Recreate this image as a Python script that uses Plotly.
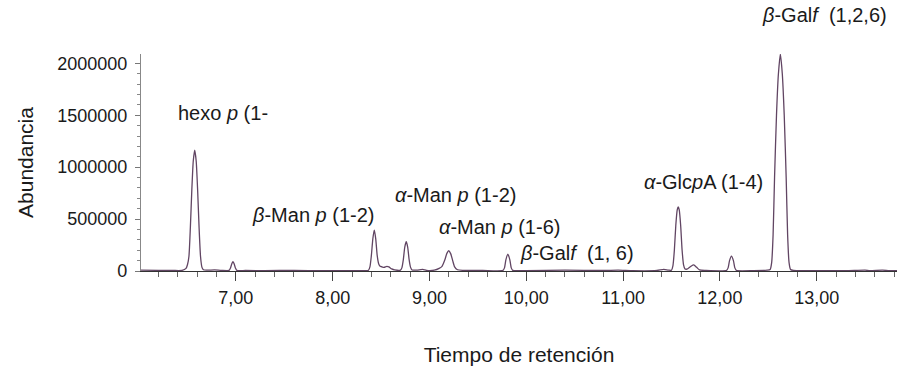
import plotly.graph_objects as go

# Retention time (min) and abundance
tiempo = [6.02, 6.20, 6.35, 6.445, 6.485, 6.50, 6.515, 6.53, 6.545, 6.56, 6.575, 6.59, 6.605,
          6.62, 6.635, 6.65, 6.665, 6.70, 6.78, 6.85, 6.93, 6.945, 6.96, 6.97, 6.98, 6.995,
          7.01, 7.10, 7.30, 7.60, 7.90, 8.20, 8.37, 8.385, 8.40, 8.415, 8.43, 8.445, 8.46,
          8.475, 8.49, 8.51, 8.53, 8.56, 8.58, 8.61, 8.64, 8.70, 8.715, 8.73, 8.745, 8.76,
          8.775, 8.79, 8.805, 8.82, 8.87, 8.93, 8.97, 9.05, 9.10, 9.13, 9.16, 9.18, 9.20,
          9.22, 9.24, 9.26, 9.29, 9.35, 9.55, 9.76, 9.775, 9.79, 9.81, 9.83, 9.845, 9.86,
          10.00, 10.40, 10.80, 10.95, 11.10, 11.35, 11.42, 11.47, 11.50, 11.515, 11.53,
          11.545, 11.56, 11.57, 11.58, 11.595, 11.61, 11.625, 11.64, 11.66, 11.70, 11.73,
          11.76, 11.79, 11.85, 12.07, 12.085, 12.10, 12.12, 12.14, 12.155, 12.17, 12.35,
          12.49, 12.52, 12.535, 12.55, 12.565, 12.585, 12.605, 12.625, 12.645, 12.665,
          12.685, 12.70, 12.715, 12.73, 12.76, 12.90, 13.30, 13.50, 13.55, 13.68, 13.75,
          13.83]
abundancia = [8000, 6000, 5000, 6000, 25000, 60000, 140000, 420000, 780000, 1060000, 1163000,
              1060000, 780000, 420000, 140000, 35000, 12000, 8000, 10000, 6000, 6000, 30000,
              75000, 89000, 75000, 30000, 6000, 5000, 4000, 6000, 3000, 4000, 8000, 40000,
              150000, 310000, 394000, 310000, 150000, 70000, 45000, 40000, 35000, 45000,
              40000, 20000, 10000, 8000, 30000, 110000, 230000, 282000, 230000, 110000, 35000,
              10000, 8000, 15000, 6000, 8000, 25000, 45000, 110000, 170000, 195000, 165000,
              100000, 40000, 12000, 6000, 5000, 6000, 30000, 110000, 163000, 110000, 30000,
              6000, 4000, 8000, 5000, 8000, 3000, 5000, 15000, 8000, 8000, 50000, 200000,
              440000, 590000, 618000, 590000, 440000, 200000, 60000, 20000, 18000, 45000,
              58000, 35000, 10000, 5000, 6000, 30000, 100000, 144000, 100000, 30000, 6000,
              4000, 8000, 15000, 80000, 350000, 900000, 1500000, 1900000, 2090000, 1900000,
              1500000, 900000, 350000, 80000, 15000, 6000, 4000, 3000, 8000, 3000, 8000,
              3000, 3000]

# Peak labels (anchored at their left edge)
etiquetas = ["hexo <i>p</i> (1-", "<i>β</i>-Man <i>p</i> (1-2)", "<i>α</i>-Man <i>p</i> (1-2)",
             "<i>α</i>-Man <i>p</i> (1-6)", "<i>β</i>-Gal<i>f</i>  (1, 6)",
             "<i>α</i>-Glc<i>p</i>A (1-4)", "<i>β</i>-Gal<i>f</i>  (1,2,6)"]
etiq_x = [6.38, 7.145, 8.62, 9.08, 9.91, 11.20, 12.41]
etiq_y = [1520000, 538000, 730000, 423000, 173000, 856000, 2470000]

x_ticks = [7, 8, 9, 10, 11, 12, 13]
x_ticktext = ["7,00", "8,00", "9,00", "10,00", "11,00", "12,00", "13,00"]
y_ticks = [0, 500000, 1000000, 1500000, 2000000]
y_ticktext = ["0", "500000", "1000000", "1500000", "2000000"]
y_max = 2090000
x_range = [6.02, 13.83]

FONT = "Liberation Sans, Arial, sans-serif"

fig = go.Figure()
fig.add_trace(go.Scatter(
    x=tiempo, y=abundancia, mode="lines",
    line=dict(color="#614563", width=1.3, shape="spline", smoothing=0.6),
    hoverinfo="x+y", showlegend=False))

for t, x, y in zip(etiquetas, etiq_x, etiq_y):
    fig.add_annotation(x=x, xref="x", y=y / y_max, yref="paper", text=t, showarrow=False,
                       xanchor="left", yanchor="middle",
                       font=dict(family=FONT, size=20, color="#1a1a1a"))

fig.update_layout(
    width=911, height=380,
    margin=dict(l=141, r=14, t=54, b=109),
    paper_bgcolor="white", plot_bgcolor="white",
    font=dict(family=FONT, color="#1a1a1a"),
    xaxis=dict(range=x_range, tickvals=x_ticks, ticktext=x_ticktext, automargin=False,
               ticks="outside", ticklen=9, tickcolor="#444", tickwidth=1,
               ticklabelstandoff=1,
               minor=dict(dtick=0.2, tick0=7, ticks="outside", ticklen=5, tickcolor="#666"),
               showline=True, linecolor="#333", linewidth=1.3, showgrid=False, zeroline=False,
               tickfont=dict(size=18),
               title=dict(text="Tiempo de retención", font=dict(size=21), standoff=40)),
    yaxis=dict(range=[0, y_max], tickvals=y_ticks, ticktext=y_ticktext, automargin=False,
               ticks="outside", ticklen=5, tickcolor="#777", ticklabelstandoff=4,
               minor=dict(dtick=100000, ticks="outside", ticklen=3, tickcolor="#888"),
               showline=True, linecolor="#888", linewidth=1.3, showgrid=False, zeroline=False,
               tickfont=dict(size=18),
               title=dict(text="Abundancia", font=dict(size=21), standoff=17)),
)

# remove the page's default body margin so the figure fills the window exactly
fig.write_html("out.html", config={"displayModeBar": False},
               post_script="document.body.style.margin='0';document.body.style.overflow='hidden';")
